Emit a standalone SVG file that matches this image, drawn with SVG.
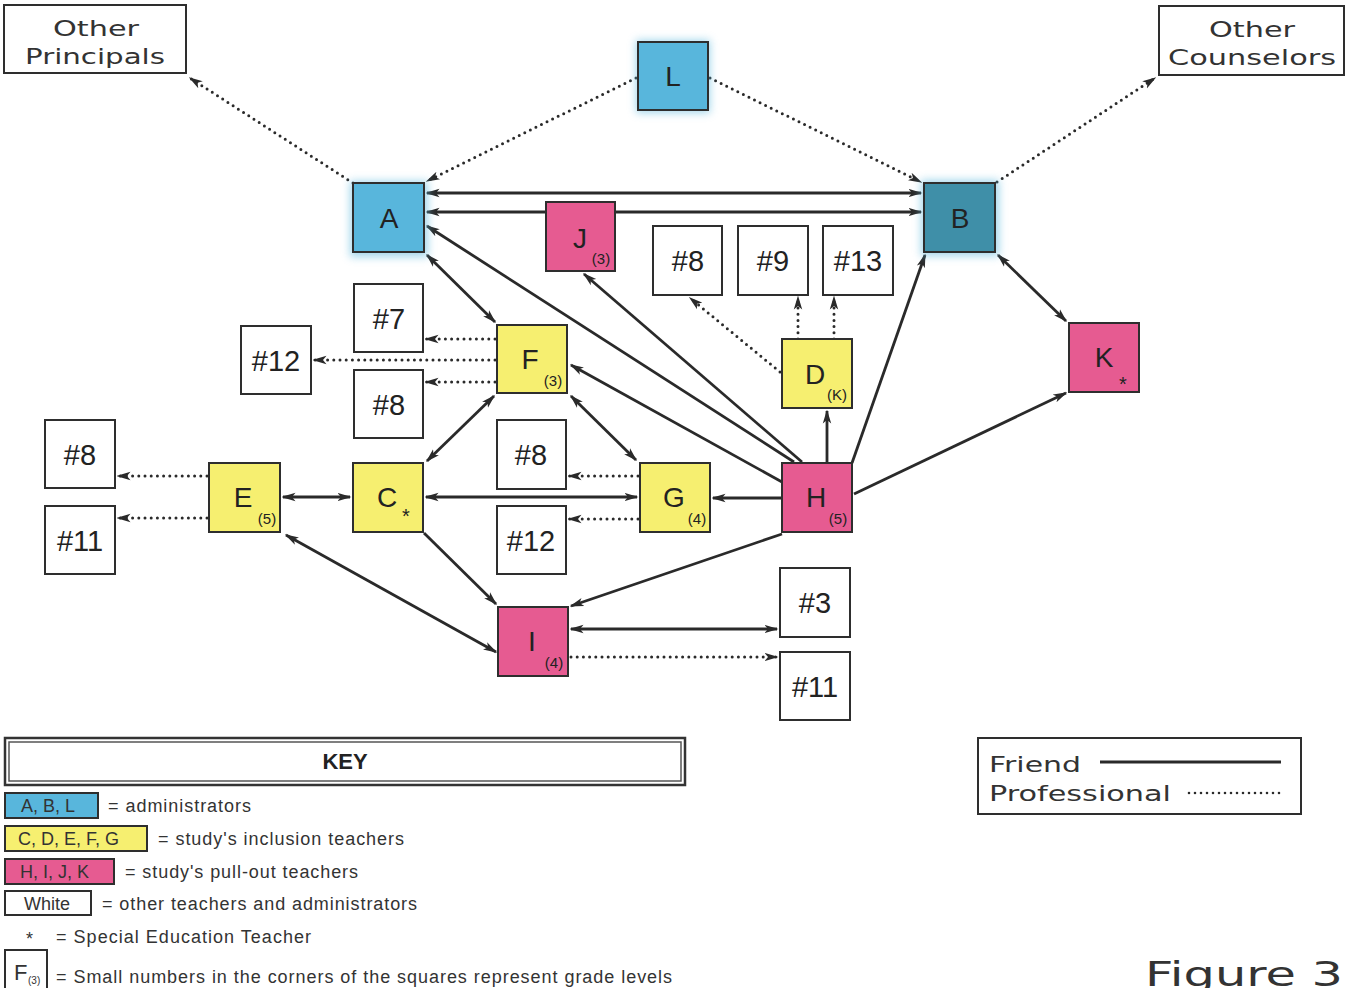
<svg xmlns="http://www.w3.org/2000/svg" width="1346" height="988" viewBox="0 0 1346 988">
<defs>
<marker id="arr" viewBox="0 0 14 10" markerUnits="userSpaceOnUse" markerWidth="14" markerHeight="10" refX="12.5" refY="5" orient="auto-start-reverse">
<path d="M0,0.8 L14,5 L0,9.2 L3.5,5 z" fill="#2a2a2a"/>
</marker>
<filter id="glow" x="-30%" y="-30%" width="160%" height="160%">
<feGaussianBlur stdDeviation="4"/>
</filter>
<style>
.bg{fill:#ffffff}
.solid{fill:none;stroke:#2a2a2a;stroke-width:2.8}
.dot{fill:none;stroke:#2a2a2a;stroke-width:3;stroke-dasharray:0 6.2;stroke-linecap:round}
.box{stroke:#2e2e2e;stroke-width:2}
.white{fill:#ffffff}
.blue{fill:#58b6dc}
.dblue{fill:#3f8fa8}
.yellow{fill:#f6ef70}
.pink{fill:#e65b91}
.halo{filter:url(#glow);opacity:0.55}
.big{font-family:"Liberation Sans",Arial,sans-serif;font-size:28px;fill:#222;text-anchor:middle}
.num{font-family:"Liberation Sans",Arial,sans-serif;font-size:29px;fill:#222;text-anchor:middle}
.sub{font-family:"Liberation Sans",Arial,sans-serif;font-size:15px;fill:#222;text-anchor:middle}
.star{font-family:"Liberation Sans",Arial,sans-serif;font-size:20px;fill:#222;text-anchor:middle}
.tech{font-family:"DejaVu Sans",sans-serif;font-size:21px;fill:#333}
.key{font-family:"Liberation Sans",Arial,sans-serif;font-size:18px;fill:#333}
</style>
</defs>
<rect class="bg" x="0" y="0" width="1346" height="988"/>

<g id="connectors">
<path class="dot" d="M353,183 L190,78" marker-end="url(#arr)"/>
<path class="dot" d="M636,78 L427,181" marker-end="url(#arr)"/>
<path class="dot" d="M710,78 L921,182" marker-end="url(#arr)"/>
<path class="dot" d="M997,182 L1155,78" marker-end="url(#arr)"/>
<path class="solid" d="M427,193 L921,193" marker-start="url(#arr)" marker-end="url(#arr)"/>
<path class="solid" d="M427,212 L921,212" marker-start="url(#arr)" marker-end="url(#arr)"/>
<path class="solid" d="M427,255 L495,322" marker-start="url(#arr)" marker-end="url(#arr)"/>
<path class="solid" d="M794,462 L427,226" marker-end="url(#arr)"/>
<path class="solid" d="M802,462 L584,274" marker-end="url(#arr)"/>
<path class="solid" d="M782,482 L571,365" marker-end="url(#arr)"/>
<path class="solid" d="M571,396 L636,460" marker-start="url(#arr)" marker-end="url(#arr)"/>
<path class="solid" d="M494,396 L427,461" marker-start="url(#arr)" marker-end="url(#arr)"/>
<path class="dot" d="M495,339 L426,339" marker-end="url(#arr)"/>
<path class="dot" d="M495,360 L314,360" marker-end="url(#arr)"/>
<path class="dot" d="M495,382 L426,382" marker-end="url(#arr)"/>
<path class="dot" d="M207,476 L118,476" marker-end="url(#arr)"/>
<path class="dot" d="M207,518 L118,518" marker-end="url(#arr)"/>
<path class="solid" d="M283,497 L350,497" marker-start="url(#arr)" marker-end="url(#arr)"/>
<path class="solid" d="M426,497 L637,497" marker-start="url(#arr)" marker-end="url(#arr)"/>
<path class="dot" d="M638,476 L569,476" marker-end="url(#arr)"/>
<path class="dot" d="M638,519 L569,519" marker-end="url(#arr)"/>
<path class="solid" d="M782,498 L713,498" marker-end="url(#arr)"/>
<path class="solid" d="M827,463 L827,411" marker-end="url(#arr)"/>
<path class="dot" d="M780,372 L690,298" marker-end="url(#arr)"/>
<path class="dot" d="M798,339 L798,297" marker-end="url(#arr)"/>
<path class="dot" d="M834,339 L834,297" marker-end="url(#arr)"/>
<path class="solid" d="M852,463 L925,255" marker-end="url(#arr)"/>
<path class="solid" d="M854,494 L1066,393" marker-end="url(#arr)"/>
<path class="solid" d="M998,255 L1066,321" marker-start="url(#arr)" marker-end="url(#arr)"/>
<path class="solid" d="M782,534 L571,606" marker-end="url(#arr)"/>
<path class="solid" d="M424,533 L496,604" marker-end="url(#arr)"/>
<path class="solid" d="M286,535 L496,652" marker-start="url(#arr)" marker-end="url(#arr)"/>
<path class="solid" d="M571,629 L777,629" marker-start="url(#arr)" marker-end="url(#arr)"/>
<path class="dot" d="M571,657 L777,657" marker-end="url(#arr)"/>
</g>

<g id="node-other-principals">
<rect class="box white" x="4" y="5" width="182" height="68"/>
<text class="tech" x="53" y="36" textLength="86" lengthAdjust="spacingAndGlyphs">Other</text>
<text class="tech" x="25" y="64" textLength="140" lengthAdjust="spacingAndGlyphs">Principals</text>
</g>
<g id="node-other-counselors">
<rect class="box white" x="1159" y="6" width="185" height="69"/>
<text class="tech" x="1209" y="37" textLength="86" lengthAdjust="spacingAndGlyphs">Other</text>
<text class="tech" x="1168" y="65" textLength="168" lengthAdjust="spacingAndGlyphs">Counselors</text>
</g>
<g id="node-L">
<rect class="blue halo" x="636" y="40" width="74" height="73"/>
<rect class="box blue" x="638" y="42" width="70" height="68"/>
<text class="big" x="673" y="86">L</text>
</g>
<g id="node-A">
<rect class="blue halo" x="350" y="181" width="78" height="76"/>
<rect class="box blue" x="353" y="183" width="71" height="69"/>
<text class="big" x="389" y="228">A</text>
</g>
<g id="node-B">
<rect class="blue halo" x="921" y="180" width="78" height="76"/>
<rect class="box dblue" x="924" y="183" width="71" height="69"/>
<text class="big" x="960" y="228">B</text>
</g>
<g id="node-J">
<rect class="box pink" x="546" y="202" width="69" height="69"/>
<text class="big" x="580" y="248">J</text>
<text class="sub" x="601" y="264">(3)</text>
</g>
<g id="node-n8a">
<rect class="box white" x="653" y="226" width="69" height="69"/>
<text class="num" x="688" y="271">#8</text>
</g>
<g id="node-n9">
<rect class="box white" x="738" y="226" width="70" height="69"/>
<text class="num" x="773" y="271">#9</text>
</g>
<g id="node-n13">
<rect class="box white" x="823" y="226" width="70" height="69"/>
<text class="num" x="858" y="271">#13</text>
</g>
<g id="node-D">
<rect class="box yellow" x="782" y="339" width="70" height="69"/>
<text class="big" x="815" y="384">D</text>
<text class="sub" x="837" y="400">(K)</text>
</g>
<g id="node-K">
<rect class="box pink" x="1069" y="323" width="70" height="69"/>
<text class="big" x="1104" y="367">K</text>
<text class="star" x="1123" y="391">*</text>
</g>
<g id="node-n7">
<rect class="box white" x="354" y="284" width="69" height="68"/>
<text class="num" x="389" y="329">#7</text>
</g>
<g id="node-n12a">
<rect class="box white" x="241" y="326" width="70" height="68"/>
<text class="num" x="276" y="371">#12</text>
</g>
<g id="node-F">
<rect class="box yellow" x="497" y="325" width="70" height="68"/>
<text class="big" x="530" y="369">F</text>
<text class="sub" x="553" y="386">(3)</text>
</g>
<g id="node-n8b">
<rect class="box white" x="354" y="370" width="69" height="68"/>
<text class="num" x="389" y="415">#8</text>
</g>
<g id="node-n8c">
<rect class="box white" x="45" y="420" width="70" height="68"/>
<text class="num" x="80" y="465">#8</text>
</g>
<g id="node-n11a">
<rect class="box white" x="45" y="506" width="70" height="68"/>
<text class="num" x="80" y="551">#11</text>
</g>
<g id="node-E">
<rect class="box yellow" x="209" y="463" width="71" height="69"/>
<text class="big" x="243" y="507">E</text>
<text class="sub" x="267" y="524">(5)</text>
</g>
<g id="node-C">
<rect class="box yellow" x="353" y="463" width="70" height="69"/>
<text class="big" x="387" y="507">C</text>
<text class="star" x="406" y="523">*</text>
</g>
<g id="node-n8d">
<rect class="box white" x="497" y="420" width="69" height="69"/>
<text class="num" x="531" y="465">#8</text>
</g>
<g id="node-n12b">
<rect class="box white" x="497" y="506" width="69" height="68"/>
<text class="num" x="531" y="551">#12</text>
</g>
<g id="node-G">
<rect class="box yellow" x="640" y="463" width="70" height="69"/>
<text class="big" x="674" y="507">G</text>
<text class="sub" x="697" y="524">(4)</text>
</g>
<g id="node-H">
<rect class="box pink" x="782" y="463" width="70" height="69"/>
<text class="big" x="816" y="507">H</text>
<text class="sub" x="838" y="524">(5)</text>
</g>
<g id="node-I">
<rect class="box pink" x="498" y="607" width="70" height="69"/>
<text class="big" x="532" y="651">I</text>
<text class="sub" x="554" y="668">(4)</text>
</g>
<g id="node-n3">
<rect class="box white" x="780" y="568" width="70" height="69"/>
<text class="num" x="815" y="613">#3</text>
</g>
<g id="node-n11b">
<rect class="box white" x="780" y="652" width="70" height="68"/>
<text class="num" x="815" y="697">#11</text>
</g>

<g id="key">
<rect x="5" y="738" width="680" height="47" fill="#fff" stroke="#333" stroke-width="2.5"/>
<rect x="9" y="742" width="672" height="39" fill="none" stroke="#555" stroke-width="1.5"/>
<text x="345" y="769" text-anchor="middle" style="font-family:'Liberation Sans',Arial,sans-serif;font-size:22px;font-weight:bold;fill:#222">KEY</text>
<rect class="box blue" x="5" y="793" width="93" height="25" stroke-width="1.5"/>
<text class="key" x="21" y="812">A, B, L</text>
<text class="key" x="108" y="812" textLength="143">= administrators</text>
<rect class="box yellow" x="5" y="826" width="142" height="25" stroke-width="1.5"/>
<text class="key" x="18" y="845">C, D, E, F, G</text>
<text class="key" x="158" y="845" textLength="246">= study's inclusion teachers</text>
<rect class="box pink" x="5" y="859" width="109" height="25" stroke-width="1.5"/>
<text class="key" x="20" y="878">H, I, J, K</text>
<text class="key" x="125" y="878" textLength="233">= study's pull-out teachers</text>
<rect class="box white" x="5" y="891" width="86" height="24" stroke-width="1.5"/>
<text class="key" x="24" y="910">White</text>
<text class="key" x="102" y="910" textLength="315">= other teachers and administrators</text>
<text class="key" x="26" y="945">*</text>
<text class="key" x="56" y="943" textLength="255">= Special Education Teacher</text>
<rect class="box white" x="5" y="950" width="42" height="40" stroke-width="1.5"/>
<text class="key" x="14" y="980" style="font-size:22px">F</text>
<text class="key" x="28" y="984" style="font-size:10px">(3)</text>
<text class="key" x="56" y="983" textLength="616">= Small numbers in the corners of the squares represent grade levels</text>
</g>

<g id="legend">
<rect class="box white" x="978" y="738" width="323" height="76"/>
<text class="tech" x="989" y="772" textLength="92" lengthAdjust="spacingAndGlyphs">Friend</text>
<line x1="1100" y1="762" x2="1281" y2="762" stroke="#2a2a2a" stroke-width="3"/>
<text class="tech" x="989" y="801" textLength="182" lengthAdjust="spacingAndGlyphs">Professional</text>
<line x1="1189" y1="793" x2="1283" y2="793" stroke="#2a2a2a" stroke-width="2.6" stroke-dasharray="0 6" stroke-linecap="round"/>
</g>

<text class="tech" x="1145" y="986" style="font-size:34px" textLength="198" lengthAdjust="spacingAndGlyphs">Figure 3</text>
</svg>
